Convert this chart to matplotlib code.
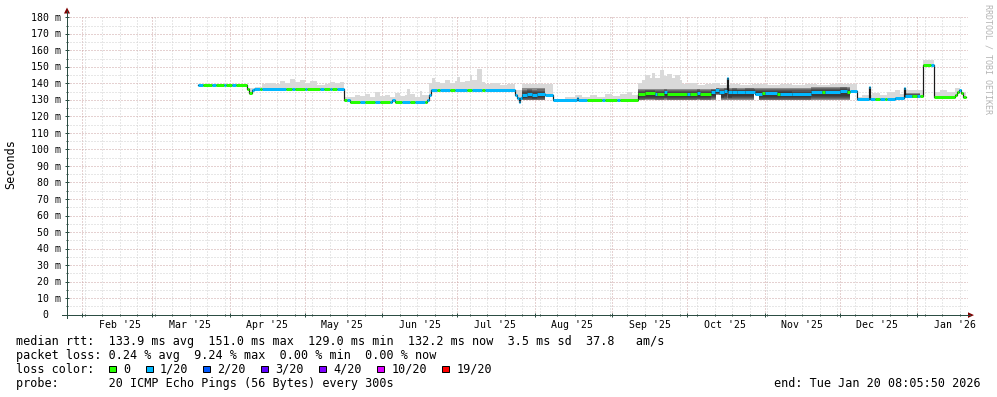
import numpy as np
import pandas as pd
import matplotlib
matplotlib.use('Agg')
import matplotlib.pyplot as plt
import matplotlib.dates as mdates
from matplotlib.patches import Rectangle, Polygon
from matplotlib.transforms import blended_transform_factory, offset_copy

# ==============================================================================
# Data
#
# median rtt, step series: start of each step, value [ms], loss bracket index
median_dates = [
    '2025-03-19 06:00', '2025-03-21 06:00', '2025-03-25', '2025-03-26 12:00',
    '2025-03-29 12:00', '2025-03-30 12:00', '2025-04-02', '2025-04-03 12:00',
    '2025-04-07 20:00', '2025-04-08 12:00', '2025-04-10', '2025-04-10 12:00',
    '2025-04-13', '2025-04-14', '2025-04-23 12:00', '2025-04-26',
    '2025-04-27', '2025-05-01', '2025-05-02', '2025-05-07',
    '2025-05-08 12:00', '2025-05-11', '2025-05-12', '2025-05-14',
    '2025-05-16 16:00', '2025-05-18', '2025-05-19', '2025-05-23',
    '2025-05-25', '2025-05-29', '2025-05-31', '2025-06-04',
    '2025-06-05', '2025-06-06', '2025-06-09', '2025-06-12',
    '2025-06-14', '2025-06-18', '2025-06-19', '2025-06-19 18:00',
    '2025-06-20 12:00', '2025-06-23', '2025-06-24', '2025-06-28',
    '2025-06-30', '2025-07-05', '2025-07-07', '2025-07-11',
    '2025-07-12', '2025-07-24', '2025-07-24 18:00', '2025-07-25 12:00',
    '2025-07-26 06:00', '2025-07-26 18:00', '2025-07-29', '2025-07-31',
    '2025-08-02', '2025-08-05', '2025-08-08 06:00', '2025-08-17 18:00',
    '2025-08-18 06:00', '2025-08-21 18:00', '2025-08-28', '2025-08-29',
    '2025-09-03', '2025-09-04', '2025-09-11 06:00', '2025-09-14',
    '2025-09-18', '2025-09-19', '2025-09-21 12:00', '2025-09-23',
    '2025-10-01', '2025-10-02', '2025-10-05', '2025-10-06',
    '2025-10-10 12:00', '2025-10-12', '2025-10-13 12:00', '2025-10-15 12:00',
    '2025-10-17', '2025-10-17 08:00', '2025-10-19', '2025-10-21',
    '2025-10-24', '2025-10-28', '2025-10-31', '2025-11-01',
    '2025-11-06', '2025-11-07', '2025-11-12', '2025-11-19 12:00',
    '2025-11-24', '2025-11-25', '2025-12-01', '2025-12-04',
    '2025-12-05', '2025-12-07 20:00', '2025-12-12 18:00', '2025-12-13 06:00',
    '2025-12-15', '2025-12-17', '2025-12-19', '2025-12-20',
    '2025-12-23', '2025-12-26 18:00', '2025-12-27 06:00', '2025-12-30',
    '2026-01-01', '2026-01-02', '2026-01-03 06:00', '2026-01-06 12:00',
    '2026-01-07 16:00', '2026-01-16', '2026-01-17', '2026-01-17 18:00',
    '2026-01-18 12:00', '2026-01-19 06:00',
]
median_values = [
    138.8, 138.8, 138.8, 138.8, 138.8, 138.8, 138.8, 138.8,
    136.5, 134.0, 136.0, 136.8, 136.8, 136.8, 136.8, 136.8,
    136.8, 136.8, 136.8, 136.8, 136.8, 136.8, 136.8, 136.8,
    129.8, 129.8, 129.0, 129.0, 129.0, 129.0, 129.0, 129.0,
    129.8, 129.0, 129.0, 129.0, 129.0, 129.0, 130.0, 133.0,
    135.8, 135.8, 135.8, 135.8, 135.8, 135.8, 135.8, 135.8,
    135.8, 133.0, 131.0, 129.0, 131.0, 133.0, 133.8, 132.8,
    133.5, 132.8, 129.8, 131.2, 129.8, 129.8, 129.8, 129.8,
    129.8, 129.8, 133.7, 134.2, 133.7, 133.7, 134.5, 133.7,
    133.7, 133.7, 134.3, 133.7, 135.0, 135.8, 134.5, 135.5,
    143.0, 134.5, 135.0, 134.6, 135.0, 133.8, 134.0, 134.0,
    133.8, 133.8, 133.5, 135.0, 135.0, 134.6, 135.5, 134.8,
    135.3, 130.4, 138.0, 130.4, 130.4, 130.4, 130.4, 130.4,
    131.0, 137.0, 132.3, 132.3, 132.3, 132.3, 150.9, 150.9,
    132.0, 133.0, 134.5, 136.0, 134.0, 132.0,
]
median_loss = [
    1, 0, 1, 0, 1, 0, 1, 0,
    0, 0, 1, 1, 0, 1, 0, 1,
    0, 1, 0, 1, 0, 1, 0, 1,
    0, 1, 0, 1, 0, 1, 0, 1,
    1, 0, 1, 0, 1, 0, 1, 1,
    1, 0, 1, 0, 1, 0, 1, 0,
    1, 1, 1, 1, 1, 1, 1, 1,
    1, 1, 1, 1, 1, 0, 1, 0,
    1, 0, 0, 0, 1, 0, 1, 0,
    1, 0, 1, 0, 1, 1, 1, 1,
    1, 1, 1, 1, 1, 1, 0, 1,
    0, 1, 1, 1, 0, 1, 1, 0,
    1, 1, 1, 1, 0, 1, 0, 1,
    1, 1, 1, 0, 1, 0, 0, 1,
    0, 0, 0, 1, 0, 0,
]
data_end = '2026-01-20 08:05'

# top of the smoke (slowest pings), step series
smoke_dates = [
    '2025-03-19 06:00', '2025-04-08', '2025-04-11', '2025-04-14',
    '2025-04-16', '2025-04-19', '2025-04-21', '2025-04-23',
    '2025-04-25', '2025-04-27', '2025-04-29', '2025-05-01',
    '2025-05-03', '2025-05-06', '2025-05-09', '2025-05-11',
    '2025-05-13', '2025-05-15',
    '2025-05-16 16:00', '2025-05-19', '2025-05-21', '2025-05-23',
    '2025-05-25', '2025-05-27', '2025-05-29', '2025-05-31',
    '2025-06-02', '2025-06-04', '2025-06-06', '2025-06-08',
    '2025-06-10', '2025-06-11', '2025-06-12', '2025-06-14',
    '2025-06-16', '2025-06-17',
    '2025-06-19 12:00', '2025-06-21', '2025-06-22', '2025-06-24',
    '2025-06-26', '2025-06-28', '2025-06-30', '2025-07-01',
    '2025-07-02', '2025-07-04', '2025-07-06', '2025-07-07',
    '2025-07-09', '2025-07-11', '2025-07-12', '2025-07-15',
    '2025-07-18', '2025-07-21', '2025-07-24', '2025-07-26 18:00',
    '2025-08-08 06:00', '2025-08-13', '2025-08-17', '2025-08-20',
    '2025-08-23', '2025-08-26', '2025-08-29', '2025-09-01',
    '2025-09-04', '2025-09-07', '2025-09-09',
    '2025-09-11 06:00', '2025-09-13', '2025-09-14', '2025-09-16',
    '2025-09-17', '2025-09-18', '2025-09-20', '2025-09-21 12:00',
    '2025-09-23', '2025-09-25', '2025-09-26', '2025-09-28',
    '2025-09-29', '2025-10-02', '2025-10-05', '2025-10-08',
    '2025-10-11', '2025-10-14', '2025-10-18', '2025-10-22',
    '2025-10-27', '2025-11-02', '2025-11-07', '2025-11-12',
    '2025-11-17', '2025-11-22', '2025-11-27', '2025-12-02',
    '2025-12-07 20:00', '2025-12-10', '2025-12-14', '2025-12-17',
    '2025-12-20', '2025-12-23', '2025-12-25', '2025-12-27',
    '2026-01-03 06:00', '2026-01-07 16:00', '2026-01-10', '2026-01-13',
    '2026-01-16', '2026-01-18', '2026-01-19',
]
smoke_top = [
    139.5, 137.0, 138.0, 139.5,
    140.5, 139.8, 141.2, 140.3,
    142.6, 141.0, 142.2, 140.2,
    141.5, 139.2, 139.6, 140.6,
    140.0, 140.6,
    132.0, 131.5, 133.0, 132.2,
    133.5, 132.0, 134.5, 132.5,
    133.2, 131.8, 134.2, 132.5,
    133.0, 136.5, 133.5, 132.0,
    135.5, 133.0,
    140.5, 143.5, 141.0, 140.0,
    141.8, 140.5, 141.5, 144.0,
    140.8, 141.5, 145.0, 142.0,
    148.7, 141.0, 139.5, 140.0,
    139.0, 139.6, 136.0, 139.4,
    130.8, 131.8, 132.8, 131.8,
    133.0, 132.0, 133.4, 132.2,
    133.5, 134.7, 133.0,
    140.5, 142.0, 145.0, 143.0,
    146.0, 143.5, 148.0, 144.5,
    145.5, 143.5, 144.8, 142.0,
    139.5, 140.0, 139.0, 139.8,
    140.2, 139.0, 139.4, 138.8,
    139.6, 139.0, 139.5, 138.8,
    139.8, 139.2, 139.6, 139.4,
    131.5, 133.0, 134.0, 133.2,
    135.0, 136.0, 133.5, 136.0,
    154.0, 135.0, 135.8, 134.8,
    137.0, 136.5, 135.0,
]

# dense (dark) part of the smoke, step series, nan where there is none
dark_dates = [
    '2025-03-19 06:00', '2025-07-26 18:00', '2025-08-08 06:00',
    '2025-09-11 06:00', '2025-10-12 12:00', '2025-10-14 12:00',
    '2025-10-27 12:00', '2025-10-29 12:00', '2025-11-19 12:00',
    '2025-12-07 20:00', '2025-12-27 06:00', '2026-01-03 06:00',
]
dark_low = [np.nan, 129.7, np.nan, 129.7, 133.0, 129.7,
            133.5, 129.7, 129.7, np.nan, 131.0, np.nan]
dark_high = [np.nan, 137.0, np.nan, 136.8, 137.4, 137.4,
             137.2, 137.2, 138.0, np.nan, 134.0, np.nan]

loss_labels = ['0', '1/20', '2/20', '3/20', '4/20', '10/20', '19/20']
loss_colors = ['#26ff00', '#00b8ff', '#0059ff', '#5e00ff',
               '#7e00ff', '#dd00ff', '#ff0000']

rtt_stats = [133.9, 151.0, 129.0, 132.2]
rtt_sd = 3.5
rtt_am = 37.8
loss_stats = [0.24, 9.24, 0.00, 0.00]
probe_text = '20 ICMP Echo Pings (56 Bytes) every 300s'
end_text = 'end: Tue Jan 20 08:05:50 2026'

# ==============================================================================
# Layout constants (pixels)
#
WIDTH, HEIGHT = 997, 397
PLOT_LEFT, PLOT_RIGHT = 67, 968
PLOT_TOP, PLOT_BOTTOM = 17.3, 314.6
X_START = '2025-01-25 21:07'
X_END = '2026-01-21 06:43'
MONO = 'DejaVu Sans Mono'
AXIS_FONT = 7.1
LEGEND_FONT = 8.45
AXIS_COLOR = '#2c4d43'
ARROW_COLOR = '#7f0000'
GRID_COLOR = '#d1d1d1'
MGRID_COLOR = '#cda5a5'
LIGHT_SMOKE = '#d9d9d9'
LINE_COLOR = '#1a1a1a'
DOT = (0, (1, 2))
PX = 0.72                                                    # 1 px in points


def num(dates):
    return mdates.date2num(pd.to_datetime(list(dates), format='ISO8601'))


def step_at(dates, values, grid):
    index = np.searchsorted(num(dates), grid, side='right') - 1
    return np.asarray(values, dtype=float)[np.clip(index, 0, None)]

# ==============================================================================
# Figure
#
fig = plt.figure(figsize=(WIDTH/100, HEIGHT/100), dpi=100)
fig.patch.set_facecolor('white')
ax = fig.add_axes([
    PLOT_LEFT/WIDTH, 1 - PLOT_BOTTOM/HEIGHT,
    (PLOT_RIGHT - PLOT_LEFT)/WIDTH, (PLOT_BOTTOM - PLOT_TOP)/HEIGHT
])
ov = fig.add_axes([0, 0, 1, 1], zorder=5)
ov.set_xlim(0, WIDTH)
ov.set_ylim(HEIGHT, 0)
ov.axis('off')

ax.set_xlim(num([X_START])[0], num([X_END])[0])
ax.set_ylim(0, 180)
for spine in ax.spines.values():
    spine.set_visible(False)
                                                                          # grid
month_starts = pd.date_range('2025-02-01', '2026-01-01', freq='MS')
sundays = pd.date_range('2025-01-26', '2026-01-18', freq='7D')
for day in sundays:
    if day.day != 1:
        ax.axvline(mdates.date2num(day), color=GRID_COLOR, lw=PX, ls=DOT,
                   zorder=0)
for day in month_starts:
    ax.axvline(mdates.date2num(day), color=MGRID_COLOR, lw=PX, ls=DOT,
               zorder=0)
for value in range(5, 180, 10):
    ax.axhline(value, color=GRID_COLOR, lw=PX, ls=DOT, zorder=0)
for value in range(10, 181, 10):
    ax.axhline(value, color=MGRID_COLOR, lw=PX, ls=DOT, zorder=0)
                                                                         # ticks
ax.set_xticks(mdates.date2num(month_starts))
ax.set_xticks(mdates.date2num(sundays), minor=True)
ax.set_yticks(range(0, 181, 10))
ax.set_yticks(range(5, 180, 10), minor=True)
ax.tick_params(which='major', direction='inout', length=4*PX, width=PX,
               color=AXIS_COLOR, labelbottom=False, labelleft=False)
ax.tick_params(which='minor', direction='inout', length=2*PX, width=PX,
               color=AXIS_COLOR)
                                                                         # smoke
edges = np.unique(np.concatenate([
    num(median_dates), num(smoke_dates), num(dark_dates), num([data_end])
]))
median_grid = step_at(median_dates, median_values, edges)
top_grid = step_at(smoke_dates, smoke_top, edges)
low_grid = step_at(dark_dates, dark_low, edges)
high_grid = step_at(dark_dates, dark_high, edges)
ax.fill_between(edges, median_grid, np.maximum(top_grid, median_grid),
                step='post', color=LIGHT_SMOKE, lw=0, zorder=1)
dark_shades = ['#8c8c8c', '#6c6c6c', '#565656', '#464646', '#3a3a3a']
for k, shade in enumerate(dark_shades):
    fraction = k/len(dark_shades)
    lower = low_grid + (median_grid - low_grid)*fraction*0.6
    upper = high_grid - (high_grid - median_grid)*fraction
    ax.fill_between(edges, lower, upper, step='post',
                    color=shade, lw=0, zorder=2)
                                                                  # median line
median_x = np.append(num(median_dates), num([data_end]))
median_y = np.append(median_values, median_values[-1])
ax.step(median_x, median_y, where='post', color=LINE_COLOR, lw=1.2*PX,
        zorder=3)
ax.hlines(median_values, median_x[:-1], median_x[1:],
          colors=[loss_colors[level] for level in median_loss],
          lw=3*PX, zorder=4)
                                                                          # axes
ov.plot([PLOT_LEFT, PLOT_LEFT], [PLOT_BOTTOM + 3, 11], color=AXIS_COLOR,
        lw=PX)
ov.plot([PLOT_LEFT - 5, 970], [PLOT_BOTTOM + 0.5, PLOT_BOTTOM + 0.5],
        color=AXIS_COLOR, lw=PX)
ov.add_patch(Polygon([(64, 13.5), (70, 13.5), (67, 7.5)],
                     closed=True, color=ARROW_COLOR, lw=0))
ov.add_patch(Polygon([(968, 312.3), (968, 317.9), (974, 315.1)],
                     closed=True, color=ARROW_COLOR, lw=0))
                                                                   # axis labels
y_transform = offset_copy(
    blended_transform_factory(ov.transData, ax.transData),
    fig=fig, x=0, y=-3.6, units='dots'
)
for value in range(10, 181, 10):
    ov.text(60.5, value, '%d m' % value, transform=y_transform, ha='right',
            va='baseline', family=MONO, fontsize=AXIS_FONT)
ov.text(45.5, 0, '0', transform=y_transform, ha='center', va='baseline',
        family=MONO, fontsize=AXIS_FONT)
x_transform = blended_transform_factory(ax.transData, ov.transData)
for day in month_starts:
    ov.text(mdates.date2num(day + pd.Timedelta(days=15)), 328.5,
            day.strftime("%b '%y"), transform=x_transform, ha='center',
            va='baseline', family=MONO, fontsize=AXIS_FONT)
ov.text(11, 164, 'Seconds', rotation=90, ha='center', va='center',
        family=MONO, fontsize=LEGEND_FONT)
ov.text(987.5, 4, 'RRDTOOL / TOBI OETIKER', rotation=270, ha='center',
        va='top', family=MONO, fontsize=6, color='#b4b4b4')
                                                                        # legend
rtt_line = 'median rtt:  %.1f ms avg  %.1f ms max  %.1f ms min  %.1f ms now' \
    % tuple(rtt_stats) + '  %.1f ms sd  %.1f   am/s' % (rtt_sd, rtt_am)
loss_line = 'packet loss: %.2f %% avg  %.2f %% max  %.2f %% min  %.2f %% now' \
    % tuple(loss_stats)
ov.text(16, 345, rtt_line, family=MONO, fontsize=LEGEND_FONT, va='baseline')
ov.text(16, 359, loss_line, family=MONO, fontsize=LEGEND_FONT, va='baseline')
ov.text(16, 372.8, 'loss color:', family=MONO, fontsize=LEGEND_FONT,
        va='baseline')
square_x = [109, 145.7, 203.3, 261, 319.3, 377.3, 442.3]
for x, label, color in zip(square_x, loss_labels, loss_colors):
    ov.add_patch(Rectangle((x, 365.5), 6.8, 6.8, facecolor=color,
                           edgecolor='black', lw=PX))
    ov.text(x + 14, 372.8, label, family=MONO, fontsize=LEGEND_FONT,
            va='baseline')
ov.text(16, 386.6, 'probe:       ' + probe_text, family=MONO,
        fontsize=LEGEND_FONT, va='baseline')
ov.text(981, 386.6, end_text, family=MONO, fontsize=LEGEND_FONT,
        ha='right', va='baseline')

plt.savefig('out.png', dpi=100, facecolor='white')
